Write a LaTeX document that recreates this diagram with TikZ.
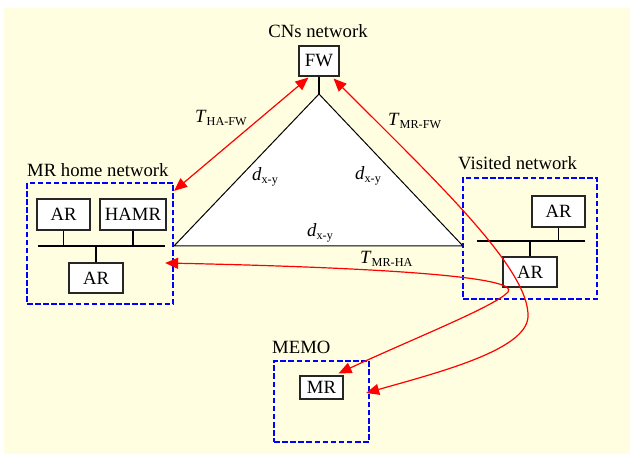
\documentclass[tikz,border=0pt]{standalone}
\usepackage{fontspec}
\setmainfont{Liberation Serif}
\usetikzlibrary{arrows.meta,calc}
\definecolor{paper}{RGB}{255,254,224}
\newcommand{\lbl}[2]{\textit{#1}\raisebox{-2.5pt}{\fontsize{12.2}{13}\selectfont #2}}
\begin{document}
\begin{tikzpicture}[x=1pt,y=-1pt,
  font=\fontsize{18.7}{21}\selectfont,
  box/.style={draw=black!85, line width=1.1pt, fill=white, inner sep=0pt, minimum height=31pt},
  area/.style={draw=blue, line width=2.3pt, dash pattern=on 5.5pt off 2.6pt, inner sep=0pt},
  wire/.style={black, line width=1.1pt},
  title/.style={anchor=base west, inner sep=0pt},
  conn/.style={red, line width=1.2pt, {Triangle[length=13pt,width=11pt]}-{Triangle[length=13pt,width=11pt]}}]

\useasboundingbox (0,0) rectangle (630,454);
\fill[paper] (4,8) rectangle (630,454);

% network areas
\node[area, minimum width=146pt, minimum height=121pt] (home) at (100,243.5) {};
\node[area, minimum width=134pt, minimum height=121pt] (visit) at (530,238.5) {};
\node[area, minimum width=95pt, minimum height=81pt] (memo) at (321.5,401.5) {};

\node[title] (homet) at (27,177) {MR home network};
\node[title] (visitt) at (458,170) {Visited network};
\node[title] (memot) at (272,354) {MEMO};
\node[anchor=base, inner sep=0pt] (cnt) at (318,38) {CNs network};

% distance triangle
\coordinate (apex) at (319,94);
\coordinate (bl) at (174,246);
\coordinate (br) at (463,246);
\draw[wire, fill=white, line width=1pt] (apex) -- (bl) -- (br) -- cycle;

% firewall
\node[box, minimum width=40pt, minimum height=30pt] (fw) at (319,61) {FW};
\draw[wire] (fw.south) -- (apex);

% home network devices
\node[box, minimum width=53pt] (ar1) at (63.5,214.5) {AR};
\node[box, minimum width=66pt] (hamr) at (133,214.5) {HAMR};
\node[box, minimum width=54pt, minimum height=30pt] (ar2) at (96,278) {AR};
\coordinate (hbusL) at (38,246);
\coordinate (hbusR) at (165,246);
\draw[wire] (hbusL) -- (hbusR);
\draw[wire] (ar1.south) -- (ar1.south |- hbusL);
\draw[wire] (hamr.south) -- (hamr.south |- hbusL);
\draw[wire] (ar2.north) -- (ar2.north |- hbusL);

% visited network devices
\node[box, minimum width=53pt] (ar3) at (558.5,211.5) {AR};
\node[box, minimum width=54pt, minimum height=30pt] (ar4) at (530,272) {AR};
\coordinate (vbusL) at (477,241);
\coordinate (vbusR) at (585,241);
\draw[wire] (vbusL) -- (vbusR);
\draw[wire] (ar3.south) -- (ar3.south |- vbusL);
\draw[wire] (ar4.north) -- (ar4.north |- vbusL);

% mobile router
\node[box, minimum width=43pt, minimum height=23pt] (mr) at (321.5,387.5) {MR};

% delays
\draw[conn] ($(home.north east)+(0,9)$) -- ($(fw.south west)+(10,1)$);
\draw[conn] ($(home.east)+(-9,19.5)$)
  .. controls (400,268) and (520,278) .. (508,292)
  .. controls (496,306) and (410,340) .. ($(mr.north east)+(-5,-2)$);
\draw[conn] ($(fw.south east)+(-6,2)$)
  .. controls (440,185) and (530,270) .. (528,317)
  .. controls (526,350) and (440,372) .. ($(memo.east)+(-4,-8.5)$);

% labels
\node[title] (thafw) at (195,123) {\lbl{T}{HA-FW}};
\node[title] (tmrfw) at (388,126) {\lbl{T}{MR-FW}};
\node[title] (tmrha) at (360,264) {\lbl{T}{MR-HA}};
\node[title] (d1) at (252,181) {\lbl{d}{x-y}};
\node[title] (d2) at (355,180) {\lbl{d}{x-y}};
\node[title] (d3) at (307,237) {\lbl{d}{x-y}};
\end{tikzpicture}
\end{document}
